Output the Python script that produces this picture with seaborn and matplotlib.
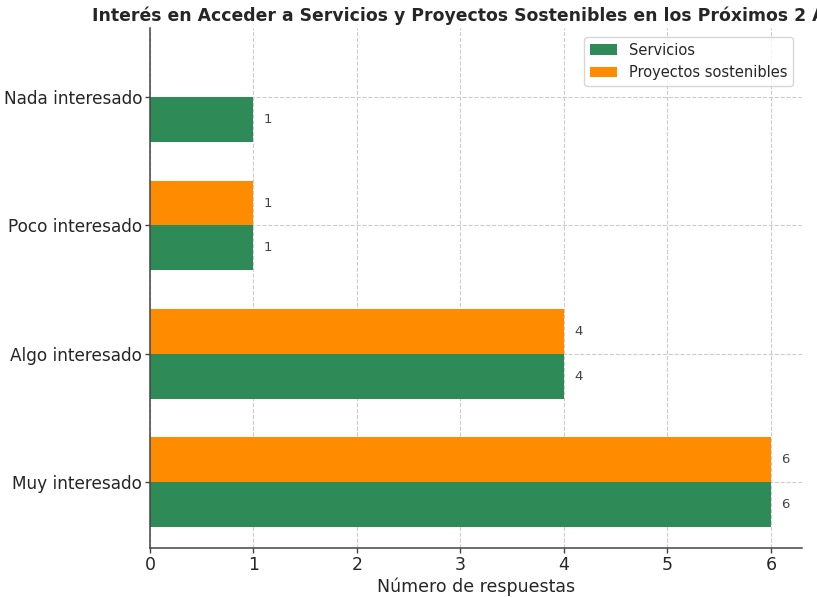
import matplotlib
matplotlib.use("Agg")
import matplotlib.pyplot as plt
import seaborn as sns
import pandas as pd

categorias = ["Nada interesado", "Poco interesado", "Algo interesado", "Muy interesado"]
servicios = [1, 1, 4, 6]
proyectos = [0, 1, 4, 6]
series = ["Servicios", "Proyectos sostenibles"]
colores = {"Servicios": "#2e8b57", "Proyectos sostenibles": "#ff8c00"}

df = pd.DataFrame({
    "Interés": categorias * 2,
    "Respuestas": servicios + proyectos,
    "Serie": [series[0]] * len(categorias) + [series[1]] * len(categorias),
})

sns.set_theme(style="ticks")
plt.rcParams["font.family"] = ["DejaVu Sans"]

fig, ax = plt.subplots(figsize=(8.17, 5.97), dpi=100)
fig.subplots_adjust(left=0.1836, right=0.9816, bottom=0.082, top=0.953)

sns.barplot(
    data=df, y="Interés", x="Respuestas", hue="Serie",
    order=categorias, hue_order=[series[1], series[0]],
    palette=colores, orient="h", width=0.7, saturation=1,
    linewidth=0, ax=ax, legend=True,
)

# value labels beside each non-zero bar
for cont in ax.containers:
    for bar in cont:
        w = bar.get_width()
        if w > 0:
            ax.text(w + 0.1, bar.get_y() + bar.get_height() / 2, f"{int(w)}",
                    va="center", ha="left", fontsize=9.5, color="#444444")

ax.set_xlim(0, 6.3)
ax.set_ylim(3.516, -0.54)
ax.set_xlabel("Número de respuestas", fontsize=12.5, labelpad=3, color="#262626")
ax.set_ylabel("")
ax.set_title("Interés en Acceder a Servicios y Proyectos Sostenibles en los Próximos 2 Años",
             fontsize=12.4, fontweight="bold", pad=5, color="#262626")
ax.tick_params(axis="both", labelsize=12.2, length=3.5, pad=2, width=1,
               color="#444444", labelcolor="#262626")
ax.tick_params(axis="x", labelsize=12.5)
ax.grid(True, linestyle="--", color="#cccccc", linewidth=0.8)
ax.set_axisbelow(True)
sns.despine(ax=ax)
for s in ("left", "bottom"):
    ax.spines[s].set_color("#444444")
    ax.spines[s].set_linewidth(1.1)

handles, labels = ax.get_legend_handles_labels()
order = [labels.index(s) for s in series]
ax.legend([handles[i] for i in order], [labels[i] for i in order],
          loc="upper right", fontsize=10.5, frameon=True, title=None,
          handlelength=1.9, borderaxespad=0.6)

fig.savefig("out.png", dpi=100)
